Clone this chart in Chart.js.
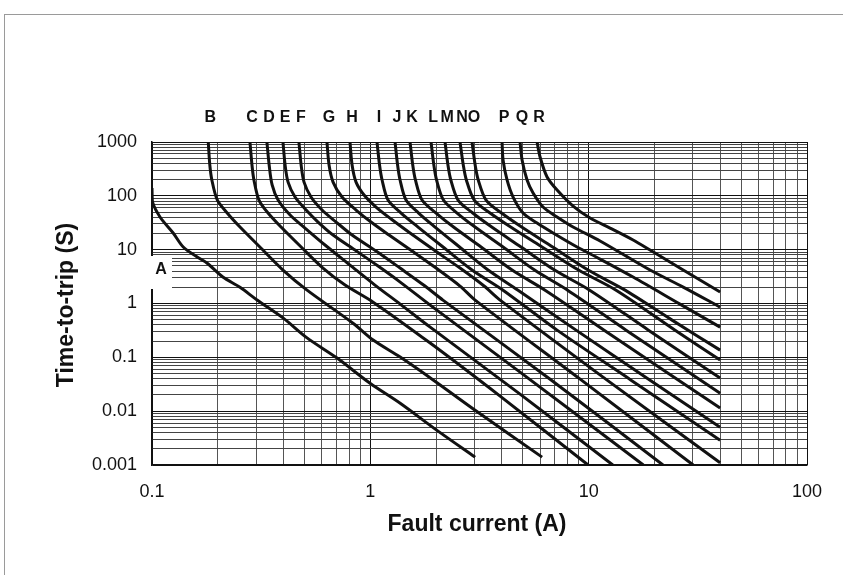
<!DOCTYPE html>
<html><head><meta charset="utf-8">
<script src="https://cdn.jsdelivr.net/npm/chart.js@4/dist/chart.umd.min.js"></script>
<style>
html,body{margin:0;padding:0;background:#fff;}
#wrap{position:relative;width:843px;height:575px;overflow:hidden;}
#frame{position:absolute;left:4px;top:14px;right:-2px;bottom:-2px;border-top:1px solid #9a9a9a;border-left:1px solid #9a9a9a;}
canvas{position:absolute;left:0;top:0;}
</style></head><body>
<div id="wrap"><div id="frame"></div><canvas id="c" width="843" height="575"></canvas></div>
<script>
// ---- data: fault current (A) and time-to-trip (s) for each curve ----
const curveNames = ['A','B','C','D','E','F','G','H','I','J','K','L','M','N','O','P','Q','R'];

const A_current = [0.1, 0.1005, 0.109, 0.125, 0.139, 0.161, 0.179, 0.211, 0.253, 0.303, 0.398, 0.513, 0.704, 0.997, 1.37, 2.02, 3.02];
const A_time    = [140, 77, 40, 20.4, 11.2, 7.3, 5.6, 3.1, 2.0, 1.16, 0.54, 0.23, 0.097, 0.033, 0.014, 0.0044, 0.0014];

const B_current = [0.181, 0.184, 0.188, 0.199, 0.221, 0.253, 0.312, 0.398, 0.513, 0.833, 1.03, 1.37, 1.94, 3.02, 6.12];
const B_time    = [1000, 374, 197, 84, 48, 26.3, 11.2, 4.18, 1.77, 0.43, 0.21, 0.101, 0.038, 0.0104, 0.0014];

const C_current = [0.281, 0.287, 0.293, 0.309, 0.340, 0.390, 0.482, 0.607, 0.766, 1.03, 1.88, 3.93, 9.94];
const C_time    = [1000, 374, 197, 83.5, 47.9, 26.3, 11.2, 4.55, 2.20, 1.06, 0.184, 0.019, 0.001];

const D_current = [0.336, 0.344, 0.355, 0.378, 0.429, 0.502, 0.620, 0.807, 1.05, 1.37, 1.88, 4.85, 12.9];
const D_time    = [1000, 374, 159, 83.5, 44, 25.2, 12.2, 5.17, 2.20, 0.975, 0.364, 0.0207, 0.001];

const E_current = [0.398, 0.407, 0.420, 0.452, 0.508, 0.576, 0.675, 0.851, 1.085, 1.37, 1.88, 4.85, 17.8];
const E_time    = [1000, 374, 180, 95, 54.5, 32.6, 18.7, 9.83, 4.96, 2.50, 0.934, 0.0531, 0.001];

const F_current = [0.471, 0.482, 0.497, 0.535, 0.601, 0.697, 0.825, 1.062, 1.368, 1.78, 2.15, 6.66, 21.9];
const F_time    = [1000, 374, 180, 95, 54.5, 32.6, 18.7, 9.42, 4.55, 2.11, 1.157, 0.0393, 0.001];

const G_current = [0.633, 0.647, 0.675, 0.742, 0.860, 1.007, 1.218, 1.553, 2.0, 2.575, 3.02, 9.14, 30.1];
const G_time    = [1000, 374, 180, 95, 54.5, 32.6, 18.7, 9.42, 4.55, 2.11, 1.157, 0.0393, 0.001];

const H_current = [0.807, 0.825, 0.860, 0.936, 1.062, 1.245, 1.520, 1.958, 2.575, 3.318, 3.93, 12.5, 40];
const H_time    = [1000, 374, 180, 103.5, 61.9, 37.1, 20.4, 9.83, 4.55, 2.11, 1.157, 0.0346, 0.0011];

const I_current = [1.073, 1.102, 1.132, 1.205, 1.383, 1.654, 2.153, 2.923, 4.054, 7.168, 15.64, 40];
const I_time    = [1000, 374, 197, 83.5, 47.9, 26.3, 11.2, 4.18, 1.77, 0.320, 0.0377, 0.00289];

const J_current = [1.298, 1.333, 1.368, 1.457, 1.664, 1.979, 2.562, 3.461, 4.749, 8.755, 19.11, 40];
const J_time    = [1000, 374, 197, 83.5, 47.9, 26.3, 11.2, 4.18, 1.77, 0.320, 0.0377, 0.00504];

const K_current = [1.520, 1.564, 1.609, 1.725, 2.0, 2.405, 3.215, 4.46, 6.314, 11.77, 40];
const K_time    = [1000, 374, 197, 83.5, 47.9, 26.3, 11.2, 4.18, 1.77, 0.320, 0.0114];

const L_current = [1.897, 1.954, 2.011, 2.162, 2.496, 3.018, 4.054, 5.653, 8.008, 14.84, 40];
const L_time    = [1000, 374, 197, 83.5, 47.9, 26.3, 11.2, 4.18, 1.77, 0.320, 0.0216];

const M_current = [2.199, 2.267, 2.337, 2.522, 2.945, 3.598, 4.90, 6.98, 10.11, 18.79, 40];
const M_time    = [1000, 374, 197, 83.5, 47.9, 26.3, 11.2, 4.18, 1.77, 0.320, 0.0411];

const N_current = [2.575, 2.665, 2.753, 2.992, 3.535, 4.393, 6.117, 8.99, 13.35, 24.88, 40];
const N_time    = [1000, 374, 197, 83.5, 47.9, 26.3, 11.2, 4.18, 1.77, 0.320, 0.0888];

const O_current = [2.923, 3.021, 3.121, 3.389, 3.99, 4.933, 6.84, 9.94, 14.68, 24.1, 40];
const O_time    = [1000, 374, 197, 83.5, 47.9, 26.3, 11.2, 4.18, 1.77, 0.491, 0.136];

const P_current = [4.012, 4.054, 4.229, 4.506, 5.007, 5.803, 6.871, 8.85, 11.28, 15.98, 26.2, 40];
const P_time    = [1000, 463, 197, 95, 47.9, 31.2, 20.4, 11.2, 6.69, 3.10, 0.975, 0.364];

const Q_current = [4.85, 4.955, 5.223, 5.565, 6.182, 7.168, 8.486, 11.28, 19.1, 27.1, 40];
const Q_time    = [1000, 463, 197, 112.7, 61.9, 40.4, 26.3, 14.5, 4.18, 2.02, 0.857];

const R_current = [5.803, 5.99, 6.449, 7.168, 8.486, 10.15, 12.53, 15.98, 19.1, 27.1, 40];
const R_time    = [1000, 526, 224, 128, 64.6, 38.7, 25.2, 15.1, 9.83, 4.18, 1.63];

// axis ranges and tick labels
const xDecades = [0.1, 1, 10, 100];
const yDecades = [0.001, 0.01, 0.1, 1, 10, 100, 1000];
const xTickLabels = ['0.1', '1', '10', '100'];
const yTickLabels = ['0.001', '0.01', '0.1', '1', '10', '100', '1000'];
const xAxisTitle = 'Fault current (A)';
const yAxisTitle = 'Time-to-trip (S)';

// ---- build ----
const curveData = {
  A:[A_current,A_time], B:[B_current,B_time], C:[C_current,C_time], D:[D_current,D_time],
  E:[E_current,E_time], F:[F_current,F_time], G:[G_current,G_time], H:[H_current,H_time],
  I:[I_current,I_time], J:[J_current,J_time], K:[K_current,K_time], L:[L_current,L_time],
  M:[M_current,M_time], N:[N_current,N_time], O:[O_current,O_time], P:[P_current,P_time],
  Q:[Q_current,Q_time], R:[R_current,R_time]
};

function gridValues(decades){
  const vals = [];
  for (let d = 0; d < decades.length - 1; d++) {
    for (let k = 1; k <= 9; k++) vals.push(parseFloat((k * decades[d]).toPrecision(6)));
  }
  vals.push(decades[decades.length - 1]);
  return vals;
}
const xGrid = gridValues(xDecades);
const yGrid = gridValues(yDecades);

function labelFor(value, decs, labels){
  for (let i = 0; i < decs.length; i++) {
    if (Math.abs(value - decs[i]) / decs[i] < 1e-6) return labels[i];
  }
  return '';
}
function isDecade(value, decs){
  return decs.some(d => Math.abs(value - d) / d < 1e-6);
}

const datasets = curveNames.map(n => ({
  label: n,
  data: curveData[n][0].map((v, i) => ({x: v, y: curveData[n][1][i]})),
  borderColor: '#111',
  borderWidth: 3,
  pointRadius: 0,
  fill: false,
  tension: 0.3,
  borderJoinStyle: 'round',
  borderCapStyle: 'butt'
}));

const FONT = '"Liberation Sans", Arial, sans-serif';
const textPlugin = {
  id: 'texts',
  beforeDatasetsDraw(chart){
    const ctx = chart.ctx;
    ctx.save();
    ctx.fillStyle = '#fff';
    ctx.fillRect(147, 256, 25, 33);
    ctx.restore();
  },
  afterDraw(chart){
    const ctx = chart.ctx;
    const xs = chart.scales.x;
    ctx.save();
    ctx.fillStyle = '#111';
    ctx.font = 'bold 16px ' + FONT;
    ctx.textAlign = 'center';
    ctx.textBaseline = 'middle';
    curveNames.forEach(n => {
      if (n === 'A') return;
      const px = xs.getPixelForValue(curveData[n][0][0]) + 2;
      ctx.fillText(n, px, 118);
    });
    ctx.fillText('A', 161, 270);
    ctx.font = 'bold 23px ' + FONT;
    ctx.fillText(xAxisTitle, 477, 525);
    ctx.translate(67, 305);
    ctx.rotate(-Math.PI / 2);
    ctx.fillText(yAxisTitle, 0, 0);
    ctx.restore();
  }
};

new Chart(document.getElementById('c'), {
  type: 'line',
  data: { datasets },
  options: {
    responsive: false,
    animation: false,
    devicePixelRatio: 1,
    layout: { padding: { left: 0, top: 142, right: 36, bottom: 0 } },
    plugins: { legend: { display: false }, tooltip: { enabled: false } },
    scales: {
      x: {
        type: 'logarithmic', min: 0.1, max: 100,
        afterBuildTicks: s => { s.ticks = xGrid.map(v => ({ value: v })); },
        afterFit: s => { s.height = 110; },
        ticks: {
          autoSkip: false, maxRotation: 0, minRotation: 0, padding: 16,
          color: '#111', font: { family: FONT, size: 18 },
          callback: v => labelFor(v, xDecades, xTickLabels)
        },
        grid: {
          drawTicks: false, lineWidth: 1,
          color: c => (c.tick && isDecade(c.tick.value, xDecades)) ? '#111' : '#555'
        },
        border: { color: '#111', width: 1.5 }
      },
      y: {
        type: 'logarithmic', min: 0.001, max: 1000,
        afterBuildTicks: s => { s.ticks = yGrid.map(v => ({ value: v })); },
        afterFit: s => { s.width = 152; },
        ticks: {
          autoSkip: false, padding: 15,
          color: '#111', font: { family: FONT, size: 18 },
          callback: v => labelFor(v, yDecades, yTickLabels)
        },
        grid: {
          drawTicks: false, lineWidth: 1,
          color: c => (c.tick && isDecade(c.tick.value, yDecades)) ? '#111' : '#444'
        },
        border: { color: '#111', width: 1.5 }
      }
    }
  },
  plugins: [textPlugin]
});
</script></body></html>
